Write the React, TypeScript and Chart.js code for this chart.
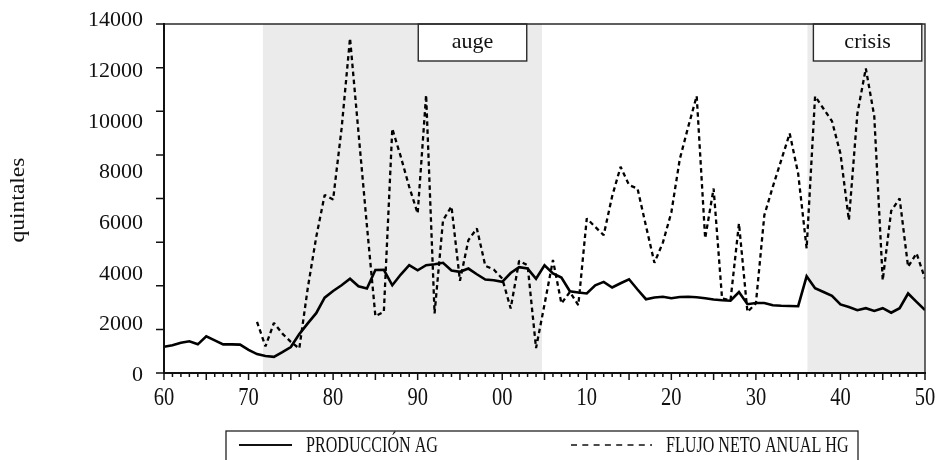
import { useEffect, useRef } from 'react';
import { Chart, registerables } from 'chart.js';

Chart.register(...registerables);

// ---------- data ----------
const years = [
  1760, 1761, 1762, 1763, 1764, 1765, 1766, 1767, 1768, 1769,
  1770, 1771, 1772, 1773, 1774, 1775, 1776, 1777, 1778, 1779,
  1780, 1781, 1782, 1783, 1784, 1785, 1786, 1787, 1788, 1789,
  1790, 1791, 1792, 1793, 1794, 1795, 1796, 1797, 1798, 1799,
  1800, 1801, 1802, 1803, 1804, 1805, 1806, 1807, 1808, 1809,
  1810, 1811, 1812, 1813, 1814, 1815, 1816, 1817, 1818, 1819,
  1820, 1821, 1822, 1823, 1824, 1825, 1826, 1827, 1828, 1829,
  1830, 1831, 1832, 1833, 1834, 1835, 1836, 1837, 1838, 1839,
  1840, 1841, 1842, 1843, 1844, 1845, 1846, 1847, 1848, 1849,
  1850,
];

const produccionAG = [
  1050, 1110, 1210, 1270, 1150, 1470, 1310, 1150, 1150, 1140,
  930, 760, 680, 650, 840, 1040, 1560, 1990, 2400, 3020,
  3290, 3520, 3780, 3480, 3390, 4130, 4140, 3520, 3950, 4325,
  4120, 4325, 4365, 4420, 4110, 4060, 4190, 3960, 3750, 3720,
  3655, 4010, 4245, 4190, 3780, 4320, 3990, 3830, 3280, 3230,
  3190, 3520, 3655, 3430, 3600, 3760, 3350, 2960, 3030, 3060,
  3000, 3050, 3060, 3040, 3000, 2950, 2920, 2900, 3250, 2760,
  2810, 2810, 2720, 2700, 2690, 2680, 3880, 3400, 3250, 3100,
  2750, 2650, 2520, 2600, 2490, 2600, 2420, 2600, 3190, 2850,
  2520,
];

const flujoNetoHG = [
  null, null, null, null, null, null, null, null, null, null,
  null, 2050, 1070, 2010, 1580, 1250, 980, 3400, 5450, 7140,
  6960, 9800, 13430, 9650, 5900, 2280, 2450, 9800, 8680, 7470,
  6400, 11150, 2390, 6130, 6680, 3700, 5330, 5800, 4300, 4150,
  3790, 2590, 4500, 4320, 1000, 2750, 4530, 2790, 3250, 2720,
  6200, 5860, 5530, 7090, 8270, 7540, 7400, 5900, 4420, 5230,
  6440, 8580, 9880, 11110, 5400, 7400, 2990, 2920, 6000, 2450,
  2790, 6330, 7470, 8540, 9610, 8000, 5000, 11100, 10600, 10100,
  8800, 6130, 10400, 12220, 10300, 3720, 6500, 7000, 4260, 4800,
  3790,
];

const seriesNames = ['PRODUCCIÓN AG', 'FLUJO NETO ANUAL HG'];
const yTickLabels = ['0', '2000', '4000', '6000', '8000', '10000', '12000', '14000'];
const xTickYears = [1760, 1770, 1780, 1790, 1800, 1810, 1820, 1830, 1840, 1850];
const xTickLabels = ['60', '70', '80', '90', '00', '10', '20', '30', '40', '50'];
const periodNames = ['auge', 'crisis'];
const periodFrom = [1771.7, 1836.1];
const periodTo = [1804.7, 1850];
const yAxisTitle = 'quintales';

// ---------- layout / style (not data) ----------
const FONT = '"Liberation Serif", "Times New Roman", serif';
const INK = '#111';
const periodBoxFrom = [1790.07, 1836.8];
const periodBoxTo = [1802.9, 1849.62];

function text(
  ctx: CanvasRenderingContext2D,
  s: string,
  x: number,
  y: number,
  size: number,
  align: CanvasTextAlign,
  sx = 1,
) {
  ctx.save();
  ctx.font = `${size}px ${FONT}`;
  ctx.fillStyle = INK;
  ctx.textAlign = align;
  ctx.textBaseline = 'middle';
  ctx.translate(x, y);
  ctx.scale(sx, 1);
  ctx.fillText(s, 0, 0);
  ctx.restore();
}

const decor = {
  id: 'decor',
  beforeDatasetsDraw(chart: any) {
    const { ctx, chartArea: a, scales } = chart;
    const x = scales.x;
    ctx.save();
    ctx.fillStyle = '#ebebeb';
    for (let i = 0; i < periodFrom.length; i++) {
      const x0 = x.getPixelForValue(periodFrom[i]);
      const x1 = x.getPixelForValue(periodTo[i]);
      ctx.fillRect(x0, a.top, x1 - x0, a.bottom - a.top);
    }
    ctx.restore();
  },
  afterDatasetsDraw(chart: any) {
    const { ctx, chartArea: a, scales } = chart;
    const x = scales.x;
    const y = scales.y;
    ctx.save();

    // period boxes
    for (let i = 0; i < periodNames.length; i++) {
      const x0 = x.getPixelForValue(periodBoxFrom[i]);
      const x1 = x.getPixelForValue(periodBoxTo[i]);
      const h = 37;
      ctx.fillStyle = '#fff';
      ctx.fillRect(x0, a.top, x1 - x0, h);
      ctx.strokeStyle = '#2a2a2a';
      ctx.lineWidth = 1.4;
      ctx.strokeRect(x0, a.top, x1 - x0, h);
      text(ctx, periodNames[i], (x0 + x1) / 2, a.top + 18, 22, 'center');
    }

    // frame
    ctx.strokeStyle = '#2a2a2a';
    ctx.lineWidth = 1.4;
    ctx.beginPath();
    ctx.moveTo(a.left, a.top);
    ctx.lineTo(a.right, a.top);
    ctx.lineTo(a.right, a.bottom);
    ctx.stroke();

    ctx.strokeStyle = INK;
    ctx.lineWidth = 2;
    ctx.beginPath();
    ctx.moveTo(a.left, a.top - 1);
    ctx.lineTo(a.left, a.bottom);
    ctx.lineTo(a.right + 1, a.bottom);
    ctx.stroke();

    // y ticks (9 marks at 1750 steps)
    ctx.lineWidth = 1.5;
    ctx.beginPath();
    for (let v = 0; v <= 14000; v += 1750) {
      const py = y.getPixelForValue(v);
      ctx.moveTo(a.left - 8, py);
      ctx.lineTo(a.left, py);
    }
    ctx.stroke();

    // x ticks: each year minor, every 5 years major
    ctx.beginPath();
    for (let yr = 1760; yr <= 1850; yr++) {
      const px = x.getPixelForValue(yr);
      const len = yr % 5 === 0 ? 7 : 4;
      ctx.moveTo(px, a.bottom);
      ctx.lineTo(px, a.bottom + len);
    }
    ctx.stroke();

    // y labels
    const span = (a.bottom - a.top) * 1.017;
    for (let i = 0; i < yTickLabels.length; i++) {
      const py = a.bottom + 2.3 - (i / (yTickLabels.length - 1)) * span;
      text(ctx, yTickLabels[i], a.left - 21, py, 22, 'right');
    }

    // x labels
    for (let i = 0; i < xTickYears.length; i++) {
      text(ctx, xTickLabels[i], x.getPixelForValue(xTickYears[i]), a.bottom + 25, 25, 'center', 0.82);
    }

    // y axis title
    ctx.save();
    ctx.translate(18, 200);
    ctx.rotate(-Math.PI / 2);
    text(ctx, yAxisTitle, 0, 0, 21, 'center', 1.12);
    ctx.restore();

    // legend
    const lx0 = 226;
    const lx1 = 858;
    const ly = 431;
    ctx.strokeStyle = '#222';
    ctx.lineWidth = 1.3;
    ctx.strokeRect(lx0, ly, lx1 - lx0, 60);
    const my = ly + 14;
    ctx.strokeStyle = INK;
    ctx.lineWidth = 2;
    ctx.beginPath();
    ctx.moveTo(239, my);
    ctx.lineTo(292, my);
    ctx.stroke();
    text(ctx, seriesNames[0], 306, my + 1, 23, 'left', 0.7);
    ctx.lineWidth = 1.5;
    ctx.setLineDash([6, 5.3]);
    ctx.beginPath();
    ctx.moveTo(571, my);
    ctx.lineTo(652, my);
    ctx.stroke();
    ctx.setLineDash([]);
    text(ctx, seriesNames[1], 666, my + 1, 23, 'left', 0.7);

    ctx.restore();
  },
};

export default function App() {
  const ref = useRef<HTMLCanvasElement | null>(null);

  useEffect(() => {
    document.body.style.margin = '0';
    const canvas = ref.current;
    if (!canvas) return;
    const chart = new Chart(canvas, {
      type: 'line',
      data: {
        datasets: [
          {
            label: seriesNames[0],
            data: years.map((yr, i) => ({ x: yr, y: produccionAG[i] })),
            borderColor: '#000',
            borderWidth: 2.6,
            pointRadius: 0,
            tension: 0,
            borderJoinStyle: 'miter',
            fill: false,
          },
          {
            label: seriesNames[1],
            data: years.map((yr, i) => ({ x: yr, y: flujoNetoHG[i] })),
            borderColor: '#000',
            borderWidth: 2.3,
            borderDash: [4.5, 3.5],
            pointRadius: 0,
            tension: 0,
            borderJoinStyle: 'bevel',
            spanGaps: false,
            fill: false,
          },
        ],
      },
      options: {
        animation: false,
        responsive: true,
        maintainAspectRatio: false,
        layout: { padding: { left: 164, right: 13, top: 24, bottom: 87 } },
        plugins: {
          legend: { display: false },
          tooltip: { enabled: false },
          title: { display: false },
        },
        scales: {
          x: { type: 'linear', min: 1760, max: 1850, display: false },
          y: { type: 'linear', min: 0, max: 14000, display: false },
        },
      },
      plugins: [decor],
    });
    return () => chart.destroy();
  }, []);

  return (
    <div style={{ width: 938, height: 460, position: 'relative', background: '#fff' }}>
      <canvas ref={ref} />
    </div>
  );
}
